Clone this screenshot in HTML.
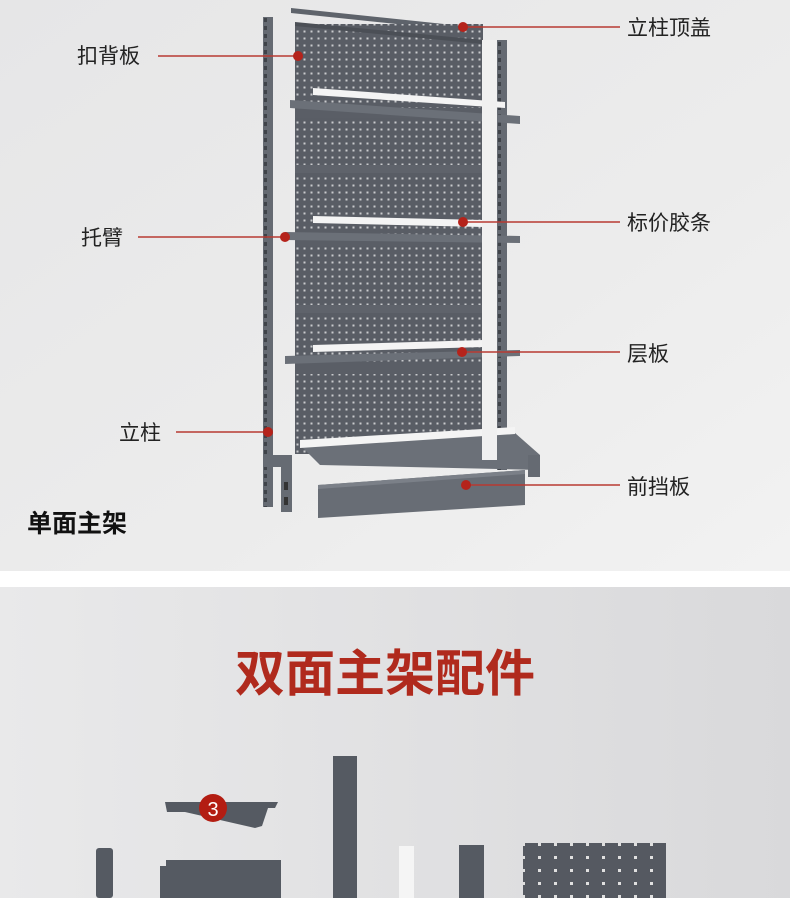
<!DOCTYPE html>
<html><head><meta charset="utf-8"><style>
body{margin:0;width:790px;height:898px;overflow:hidden;font-family:"Liberation Sans","Noto Sans CJK SC",sans-serif}
svg{display:block}
</style></head><body>
<svg width="790" height="898" viewBox="0 0 790 898" xmlns="http://www.w3.org/2000/svg">
<defs>
<linearGradient id="bg1" x1="0" y1="0" x2="1" y2="1"><stop offset="0" stop-color="#e6e6e7"/><stop offset="0.6" stop-color="#ececec"/><stop offset="1" stop-color="#f2f2f2"/></linearGradient>
<linearGradient id="bg2" x1="0" y1="0" x2="1" y2="0"><stop offset="0" stop-color="#e9e9ea"/><stop offset="1" stop-color="#d9d9db"/></linearGradient>
<pattern id="holes" width="7" height="7" patternUnits="userSpaceOnUse"><rect width="7" height="7" fill="#595d65"/><rect x="2.5" y="2.5" width="2" height="2" fill="#c9cacd"/></pattern>
<pattern id="holes2" width="16" height="13" patternUnits="userSpaceOnUse" x="533" y="851"><rect width="16" height="13" fill="#555961"/><rect x="5" y="5" width="3" height="3" fill="#e0e0e0"/></pattern>
<pattern id="slots" width="9" height="8" patternUnits="userSpaceOnUse"><rect width="9" height="8" fill="#656a72"/><rect x="3" y="2" width="3" height="4" fill="#3f4349"/></pattern>
</defs>
<rect width="790" height="571" fill="url(#bg1)"/>
<rect y="571" width="790" height="16" fill="#fff"/>
<rect y="587" width="790" height="311" fill="url(#bg2)"/>

<rect x="263" y="17" width="10" height="490" fill="url(#slots)"/>
<rect x="263" y="455" width="29" height="12" fill="#666b73"/>
<rect x="281" y="460" width="11" height="52" fill="#666b73"/>
<rect x="284" y="482" width="4" height="8" fill="#333"/><rect x="284" y="497" width="4" height="8" fill="#333"/>
<rect x="497" y="40" width="10" height="430" fill="url(#slots)"/>
<polygon points="291,8 482,28 482,33 291,13" fill="#5e636b"/>
<rect x="295" y="24" width="188" height="430" fill="url(#holes)"/>
<polygon points="295,22 483,40 483,44 295,26" fill="#4b4f56"/>
<rect x="295" y="165" width="188" height="8" fill="#5f636b"/>
<rect x="295" y="305" width="188" height="8" fill="#5f636b"/>
<rect x="295" y="108" width="188" height="10" fill="#5a5e66"/>
<rect x="295" y="238" width="188" height="8" fill="#5a5e66"/>
<rect x="295" y="362" width="188" height="12" fill="#5a5e66"/>
<g fill="#6b7078">
<polygon points="290,100 520,116 520,124 290,108"/>
<polygon points="285,232 520,236 520,243 285,240"/>
<polygon points="285,356 520,350 520,356 285,364"/>
<polygon points="300,445 515,433 540,455 540,470 320,465"/>
</g>
<g fill="#f4f4f4">
<polygon points="313,88 505,102 505,108 313,95"/>
<polygon points="313,216 483,220 483,227 313,223"/>
<polygon points="313,345 483,340 483,347 313,352"/>
<polygon points="300,440 515,427 515,434 300,448"/>
</g>
<rect x="482" y="40" width="15" height="420" fill="#f0f0f0"/>
<polygon points="318,485 525,470 525,505 318,518" fill="#686d75"/>
<polygon points="318,485 525,470 525,474 318,489" fill="#7b8088"/>
<rect x="528" y="455" width="12" height="22" fill="#656a72"/>

<g stroke="#b83a32" stroke-width="1.5">
<line x1="158" y1="56" x2="298" y2="56"/>
<line x1="463" y1="27" x2="620" y2="27"/>
<line x1="138" y1="237" x2="285" y2="237"/>
<line x1="463" y1="222" x2="620" y2="222"/>
<line x1="462" y1="352" x2="620" y2="352"/>
<line x1="176" y1="432" x2="268" y2="432"/>
<line x1="466" y1="485" x2="620" y2="485"/>
</g>
<g fill="#b5231b">
<circle cx="298" cy="56" r="5"/><circle cx="463" cy="27" r="5"/><circle cx="285" cy="237" r="5"/>
<circle cx="463" cy="222" r="5"/><circle cx="462" cy="352" r="5"/><circle cx="268" cy="432" r="5"/><circle cx="466" cy="485" r="5"/>
</g>
<g font-size="21" fill="#222">
<text x="77" y="63">扣背板</text>
<text x="627" y="35">立柱顶盖</text>
<text x="81" y="245">托臂</text>
<text x="627" y="230">标价胶条</text>
<text x="627" y="361">层板</text>
<text x="119" y="440">立柱</text>
<text x="627" y="494">前挡板</text>
</g>
<text x="27" y="532" font-size="25" font-weight="bold" fill="#111">单面主架</text>
<text x="385" y="691" font-size="50" font-weight="bold" fill="#b02a1d" text-anchor="middle">双面主架配件</text>

<g fill="#555a62">
<polygon points="165,802 278,802 275,808 268,808 262,826 255,828 185,812 167,812"/>
<rect x="96" y="848" width="17" height="50" rx="3"/>
<rect x="160" y="866" width="22" height="32"/>
<rect x="166" y="860" width="115" height="38"/>
<rect x="333" y="756" width="24" height="142"/>
<rect x="459" y="845" width="25" height="53"/>
</g>
<rect x="399" y="846" width="15" height="52" fill="#f5f5f5"/>
<rect x="523" y="843" width="143" height="55" fill="url(#holes2)"/>
<circle cx="213" cy="808" r="14" fill="#b31d12"/>
<text x="213" y="816" font-size="20" fill="#fff" text-anchor="middle">3</text>
</svg>
</body></html>
